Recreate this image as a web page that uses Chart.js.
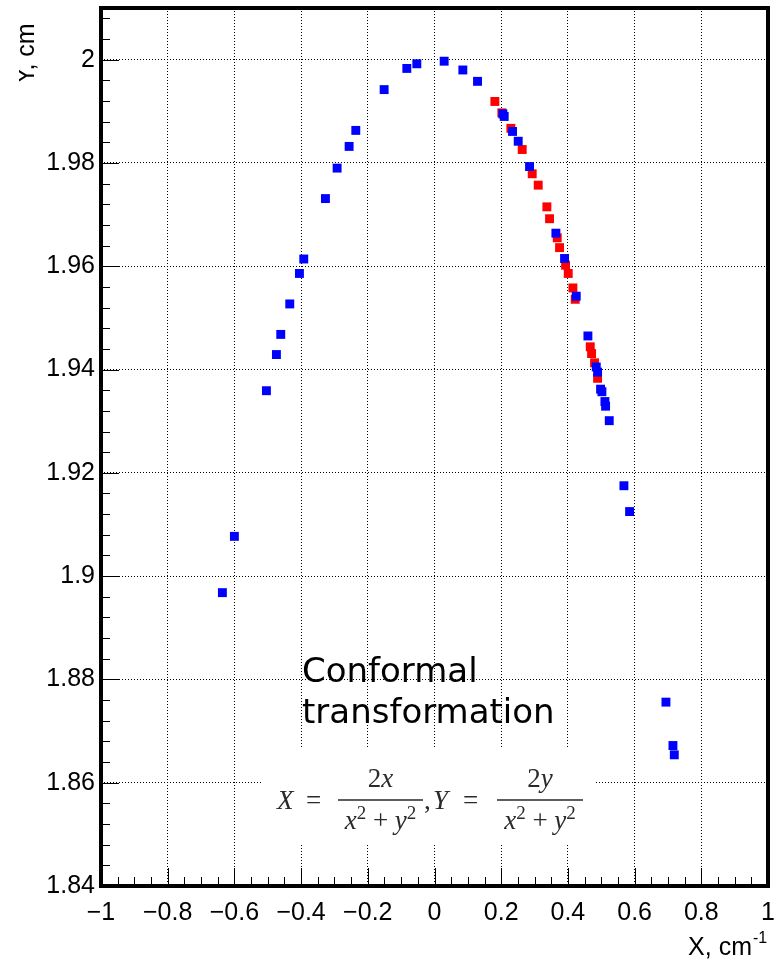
<!DOCTYPE html>
<html><head><meta charset="utf-8">
<script src="https://cdn.jsdelivr.net/npm/chart.js@4.4.1/dist/chart.umd.min.js"></script>
<style>html,body{margin:0;padding:0;background:#fff}</style>
</head><body>
<canvas id="c" width="779" height="964"></canvas>
<script>
// ---- data ----
const blueX = [-0.636, -0.600, -0.504, -0.474, -0.461, -0.434, -0.405, -0.392, -0.327, -0.292, -0.256, -0.236, -0.151, -0.083, -0.053, 0.029, 0.085, 0.129, 0.205, 0.209, 0.234, 0.251, 0.285, 0.364, 0.390, 0.425, 0.460, 0.485, 0.489, 0.498, 0.502, 0.511, 0.513, 0.524, 0.568, 0.585, 0.694, 0.715, 0.719];
const blueY = [1.8968, 1.9077, 1.9359, 1.9429, 1.9468, 1.9527, 1.9586, 1.9614, 1.9731, 1.9790, 1.9832, 1.9863, 1.9942, 1.9983, 1.9992, 1.9997, 1.9980, 1.9958, 1.9895, 1.9890, 1.9861, 1.9842, 1.9793, 1.9664, 1.9615, 1.9542, 1.9465, 1.9405, 1.9395, 1.9362, 1.9357, 1.9338, 1.9329, 1.9301, 1.9175, 1.9125, 1.8756, 1.8672, 1.8654];
const redX = [0.181, 0.202, 0.229, 0.263, 0.293, 0.311, 0.337, 0.345, 0.368, 0.375, 0.393, 0.401, 0.415, 0.422, 0.467, 0.471, 0.480, 0.489];
const redY = [1.9919, 1.9897, 1.9867, 1.9826, 1.9779, 1.9757, 1.9715, 1.9692, 1.9655, 1.9636, 1.9602, 1.9586, 1.9558, 1.9536, 1.9444, 1.9431, 1.9413, 1.9383];
const xTicks = [-1, -0.8, -0.6, -0.4, -0.2, 0, 0.2, 0.4, 0.6, 0.8, 1];
const yTicks = [1.84, 1.86, 1.88, 1.9, 1.92, 1.94, 1.96, 1.98, 2];
const xTitle = "X, cm";
const xTitleSup = "-1";
const yTitle = "Y, cm";
const noteLines = ["Conformal", "transformation"];

const toPts = (xs, ys) => xs.map((x, i) => ({x: x, y: ys[i]}));
const tickFont = {family: "'Liberation Sans', Arial, sans-serif", size: 25};

const deco = {
  id: 'deco',
  beforeDatasetsDraw(chart) {
    const ctx = chart.ctx;
    ctx.save();
    ctx.setLineDash([]);
    // white box behind the formula (covers grid)
    ctx.fillStyle = '#fff';
    ctx.fillRect(263, 748, 333, 96);
    // annotation text
    ctx.fillStyle = '#000';
    ctx.font = "34px 'DejaVu Sans'";
    ctx.textBaseline = 'alphabetic';
    ctx.textAlign = 'left';
    ctx.fillText(noteLines[0], 302, 682);
    ctx.fillText(noteLines[1], 302, 723);
    // formula
    const col = '#2a2a2a';
    ctx.fillStyle = col; ctx.strokeStyle = col;
    const it = "italic 27px 'Liberation Serif', 'DejaVu Serif', serif";
    const up = "27px 'Liberation Serif', 'DejaVu Serif', serif";
    const sm = "19px 'Liberation Serif', 'DejaVu Serif', serif";
    function runs(list, cx, base) {
      let w = 0;
      list.forEach(r => { ctx.font = r.f; w += ctx.measureText(r.t).width; });
      let x = cx - w / 2;
      list.forEach(r => { ctx.font = r.f; ctx.fillText(r.t, x, base + (r.s || 0)); x += ctx.measureText(r.t).width; });
    }
    ctx.font = it; ctx.fillText('X', 277, 809);
    ctx.font = up; ctx.fillText('=', 306, 809);
    ctx.lineWidth = 1.4;
    ctx.beginPath(); ctx.moveTo(338, 800); ctx.lineTo(423, 800); ctx.moveTo(497, 800); ctx.lineTo(583, 800); ctx.stroke();
    runs([{t: '2', f: up}, {t: 'x', f: it}], 380.5, 787);
    runs([{t: 'x', f: it}, {t: '2', f: sm, s: -10}, {t: ' + ', f: up}, {t: 'y', f: it}, {t: '2', f: sm, s: -10}], 380.5, 829);
    ctx.font = up; ctx.fillText(',', 424, 809);
    ctx.font = it; ctx.fillText('Y', 433, 809);
    ctx.font = up; ctx.fillText('=', 463, 809);
    runs([{t: '2', f: up}, {t: 'y', f: it}], 540, 787);
    runs([{t: 'x', f: it}, {t: '2', f: sm, s: -10}, {t: ' + ', f: up}, {t: 'y', f: it}, {t: '2', f: sm, s: -10}], 540, 829);
    ctx.restore();
  },
  afterDraw(chart) {
    const ctx = chart.ctx, a = chart.chartArea;
    const xs = chart.scales.x, ys = chart.scales.y;
    ctx.save();
    ctx.setLineDash([]);
    ctx.strokeStyle = '#000';
    ctx.lineWidth = 1;
    ctx.beginPath();
    // y ticks (inside, from left edge)
    for (let k = 0; k <= 42; k++) {
      const v = 1.84 + k * 0.004;
      if (v > 2.0101) break;
      const p = Math.round(ys.getPixelForValue(v)) + 0.5;
      const len = (k % 5 === 0) ? 18 : 9;
      ctx.moveTo(a.left, p); ctx.lineTo(a.left + len, p);
    }
    // x ticks (inside, from bottom edge)
    for (let k = 0; k <= 40; k++) {
      const v = -1 + k * 0.05;
      const p = Math.round(xs.getPixelForValue(v)) + 0.5;
      const len = (k % 4 === 0) ? 18 : 9;
      ctx.moveTo(p, a.bottom); ctx.lineTo(p, a.bottom - len);
    }
    ctx.stroke();
    // frame (thick)
    ctx.fillStyle = '#000';
    const L = a.left, R = a.right, T = a.top, B = a.bottom, w = 4;
    ctx.fillRect(L - w / 2, T - w / 2, R - L + w, w);
    ctx.fillRect(L - w / 2, B - w / 2, R - L + w, w);
    ctx.fillRect(L - w / 2, T - w / 2, w, B - T + w);
    ctx.fillRect(R - w / 2, T - w / 2, w, B - T + w);
    // x title
    ctx.textBaseline = 'alphabetic';
    ctx.font = "25px 'Liberation Sans', Arial, sans-serif";
    ctx.textAlign = 'right';
    ctx.fillText(xTitle, 752, 955);
    ctx.font = "16px 'Liberation Sans', Arial, sans-serif";
    ctx.textAlign = 'left';
    ctx.fillText(xTitleSup, 753, 943);
    // y title (rotated, clipped at left like the reference)
    ctx.save();
    ctx.beginPath(); ctx.rect(19, 0, 100, 120); ctx.clip();
    ctx.translate(34, 84);
    ctx.rotate(-Math.PI / 2);
    ctx.font = "25px 'Liberation Sans', Arial, sans-serif";
    ctx.textAlign = 'left';
    ctx.fillText(yTitle, 0, 0);
    ctx.restore();
    ctx.restore();
  }
};

new Chart(document.getElementById('c'), {
  type: 'scatter',
  data: {
    datasets: [
      {label: 'blue', data: toPts(blueX, blueY), backgroundColor: '#0000ff', borderColor: '#0000ff', pointStyle: 'rect', pointRadius: 6.3, borderWidth: 0},
      {label: 'red', data: toPts(redX, redY), backgroundColor: '#ff0000', borderColor: '#ff0000', pointStyle: 'rect', pointRadius: 6.3, borderWidth: 0}
    ]
  },
  options: {
    responsive: false,
    animation: false,
    devicePixelRatio: 1,
    layout: {padding: {left: 0, right: 11, top: 8, bottom: 0}},
    plugins: {legend: {display: false}, tooltip: {enabled: false}},
    scales: {
      x: {
        type: 'linear', min: -1, max: 1,
        afterBuildTicks: s => { s.ticks = xTicks.map(v => ({value: v})); },
        afterFit: s => { s.height = 78; s.paddingLeft = 0; s.paddingRight = 0; },
        ticks: {autoSkip: false, maxRotation: 0, padding: 12, color: '#000', font: tickFont,
          callback: v => String(Number(v.toFixed(1))).replace('-', '\u2212')},
        grid: {color: '#000', lineWidth: 1, drawTicks: false},
        border: {display: false, dash: [1, 2]}
      },
      y: {
        type: 'linear', min: 1.84, max: 2.01,
        afterBuildTicks: s => { s.ticks = yTicks.map(v => ({value: v})); },
        afterFit: s => { s.width = 101; s.paddingTop = 0; s.paddingBottom = 0; },
        ticks: {autoSkip: false, padding: 6, color: '#000', font: tickFont,
          callback: v => String(Number(v.toFixed(2)))},
        grid: {color: '#000', lineWidth: 1, drawTicks: false},
        border: {display: false, dash: [1, 2]}
      }
    }
  },
  plugins: [deco]
});
</script>
</body></html>
